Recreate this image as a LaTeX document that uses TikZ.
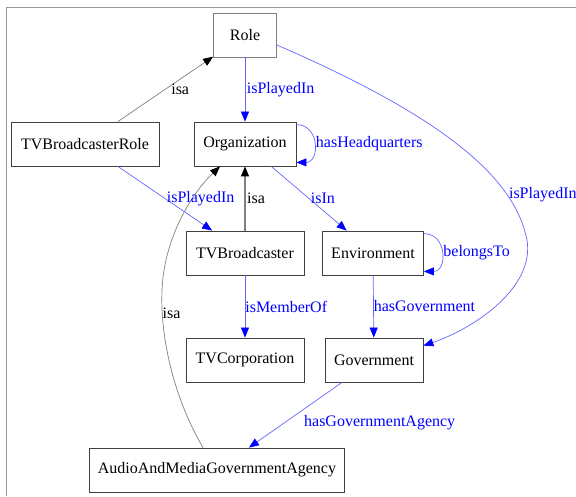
\documentclass[tikz,border=0pt]{standalone}
\usepackage{fontspec}
\setmainfont{Liberation Serif}
\usepackage{tikz}
\usetikzlibrary{arrows.meta}

\tikzset{
	cls/.style={draw=black!75, line width=0.8pt, fill=white, minimum height=44pt, inner sep=0pt},
	rel/.style={draw=blue!60, line width=0.7pt, -{Triangle[length=10pt,width=8pt,fill=blue,color=blue]}},
	isa/.style={draw=gray, line width=0.7pt, -{Triangle[length=10pt,width=8pt,fill=black,color=black]}},
	rlab/.style={text=blue, inner sep=1.5pt},
	ilab/.style={text=black, inner sep=1.5pt}
}

\begin{document}
\begin{tikzpicture}[x=1pt, y=-1pt, font=\fontsize{16}{19}\selectfont]
					\useasboundingbox (0,0) rectangle (576,496);
					% Frame
					\draw[gray!80, line width=0.8pt] (6,496) -- (6,7) -- (576,7);
					% Classes
					\node[cls, draw=gray, minimum width=63pt]  (role)    at (245,35)  {Role};
					\node[cls, minimum width=148pt] (tvbrole) at (85,144)  {TVBroadcasterRole};
					\node[cls, minimum width=102pt] (org)     at (245,144) {Organization};
					\node[cls, minimum width=118pt] (tvb)     at (245,253) {TVBroadcaster};
					\node[cls, minimum width=101pt] (env)     at (373,253) {Environment};
					\node[cls, minimum width=118pt] (tvcorp)  at (245,360) {TVCorporation};
					\node[cls, minimum width=98pt]  (gov)     at (374,360) {Government};
					\node[cls, minimum width=255pt] (agency)  at (217,470) {AudioAndMediaGovernmentAgency};
					% isa links
					\draw[isa] (tvbrole) -- node[ilab, midway, right, xshift=4pt] {isa} (role);
					\draw[isa, line width=1.2pt] (tvb) -- node[ilab, midway, right] {isa} (org);
					\draw[isa] ([xshift=-14pt]agency.north) .. controls (175,400) and (160,340) .. (162,290) node[ilab, pos=0.85, anchor=west, inner sep=0pt] {isa}
						.. controls (164,240) and (190,195) .. ([xshift=-25pt]org.south);
					% properties
					\draw[rel] (role) -- node[rlab, midway, right] {isPlayedIn} (org);
					\draw[rel] (tvbrole) -- node[rlab, midway, right] {isPlayedIn} (tvb);
					\draw[rel] (org) -- node[rlab, midway, right] {isIn} (env);
					\draw[rel] (tvb) -- node[rlab, midway, right, inner sep=0pt] {isMemberOf} (tvcorp);
					\draw[rel] (env) -- node[rlab, midway, right, inner sep=0pt] {hasGovernment} (gov);
					\draw[rel] (gov) -- node[rlab, pos=0.62, right, xshift=18pt] {hasGovernmentAgency} (agency);
					\draw[rel] ([yshift=-10pt]role.east) .. controls (450,120) and (515,180) .. (527,240) node[rlab, pos=0.75, anchor=west] {isPlayedIn}
						.. controls (535,290) and (470,330) .. ([yshift=-8pt]gov.north east);
					% self loops
					\draw[rel] ([yshift=-3pt]org.north east) to[out=0, in=0, looseness=1.6] node[rlab, right] {hasHeadquarters} ([yshift=4pt]org.south east);
					\draw[rel] ([yshift=-3pt]env.north east) to[out=0, in=0, looseness=1.6] node[rlab, right] {belongsTo} ([yshift=4pt]env.south east);
				\end{tikzpicture}
\end{document}
